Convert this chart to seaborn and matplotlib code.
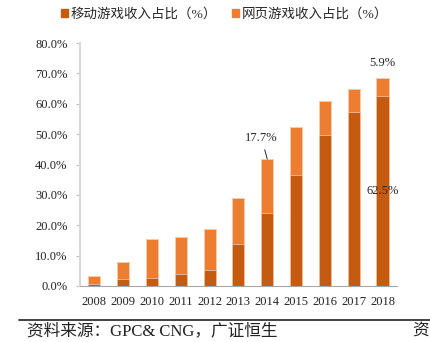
import matplotlib
matplotlib.use("Agg")
import matplotlib.pyplot as plt
import matplotlib.patches as mpatches
import numpy as np
import pandas as pd
import seaborn as sns

# Share of game revenue by segment (%)
years = ["2008", "2009", "2010", "2011", "2012", "2013", "2014", "2015", "2016", "2017", "2018"]
mobile_share = [0.5, 2.3, 2.6, 3.8, 5.3, 13.7, 24.1, 36.6, 49.6, 57.2, 62.5]
web_share = [2.7, 5.5, 12.7, 12.4, 13.5, 15.2, 17.7, 15.7, 11.3, 7.6, 5.9]
y_ticks = [0, 10, 20, 30, 40, 50, 60, 70, 80]

series_mobile = "移动游戏收入占比（%）"
series_web = "网页游戏收入占比（%）"
source_text = "资料来源：GPC& CNG，广证恒生"

c_mobile = "#C55A11"
c_web = "#ED7D31"
c_edge = "#F8CBAD"

sns.set_theme(style="white")
serif = ["Liberation Serif", "DejaVu Serif"]
cjk = ["Noto Sans CJK SC", "DejaVu Sans"]
mixed = ["Liberation Serif", "Noto Sans CJK SC"]
plt.rcParams["font.family"] = cjk

df = pd.DataFrame({
    "year": years,
    "mobile": mobile_share,
    "web": web_share,
})
df["total"] = df["mobile"] + df["web"]

fig = plt.figure(figsize=(4.30, 3.42), dpi=100)
ax = fig.add_axes([0.186, 0.164, 0.737, 0.71])

# stacked bars: total height in the web colour, mobile share drawn over it
sns.barplot(data=df, x="year", y="total", color=c_web, saturation=1,
            width=0.42, edgecolor=c_edge, linewidth=0.7, ax=ax)
sns.barplot(data=df, x="year", y="mobile", color=c_mobile, saturation=1,
            width=0.42, edgecolor=c_edge, linewidth=0.5, ax=ax)

ax.set_xlim(-0.5, len(years) - 0.5)
ax.set_ylim(0, 80)
ax.set_yticks(y_ticks)
ax.set_yticklabels([f"{v:.1f}%" for v in y_ticks], fontfamily=serif, fontsize=9, color="#222222")
ax.set_xticks(range(len(years)))
ax.set_xticklabels(years, fontfamily=serif, fontsize=9, color="#222222")
ax.set_xlabel("")
ax.set_ylabel("")

# category separators on the x axis
ax.set_xticks(np.arange(-0.5, len(years), 1.0), minor=True)
ax.tick_params(axis="x", which="major", length=0, pad=7)
ax.tick_params(axis="x", which="minor", length=4, width=0.8, color="#A6A6A6", direction="out")
ax.tick_params(axis="y", which="major", left=True, length=3, width=0.8, color="#BFBFBF", pad=6)

for side in ["top", "right"]:
    ax.spines[side].set_visible(False)
ax.spines["left"].set_color("#D9D9D9")
ax.spines["left"].set_linewidth(1.5)
ax.spines["bottom"].set_color("#A6A6A6")
ax.spines["bottom"].set_linewidth(0.8)

# value labels
i14 = years.index("2014")
ax.annotate(f"{web_share[i14]}%", xy=(i14, df["total"][i14]),
            xytext=(i14 - 0.2, df["total"][i14] + 7.0),
            ha="center", va="center", fontfamily=serif, fontsize=9,
            arrowprops=dict(arrowstyle="-", color="#222222", lw=0.7,
                            shrinkA=2, shrinkB=0))
i18 = years.index("2018")
ax.text(i18, df["total"][i18] + 5.0, f"{web_share[i18]}%", ha="center", va="center",
        fontfamily=serif, fontsize=9)
ax.text(i18, 31.2, f"{mobile_share[i18]}%", ha="center", va="center",
        fontfamily=serif, fontsize=9)

# legend
handles = [mpatches.Patch(color=c_mobile, label=series_mobile),
           mpatches.Patch(color=c_web, label=series_web)]
fig.legend(handles=handles, loc="center", bbox_to_anchor=(0.522, 0.958), ncol=2,
           frameon=False, handlelength=0.55, handleheight=0.55,
           handletextpad=0.2, columnspacing=1.05,
           prop={"family": mixed, "size": 9.7})

# source line
fig.add_artist(plt.Line2D([0.045, 1.0], [1 - 320 / 342] * 2, color="#333333", lw=1.3,
                          transform=fig.transFigure))
fig.text(0.062, 1 - 331 / 342, source_text, ha="left", va="center", fontsize=12,
         color="#222222", fontfamily=mixed)
fig.text(0.997, 1 - 331 / 342, "资", ha="right", va="center", fontsize=12,
         color="#222222", fontfamily=mixed)

fig.savefig("out.png", dpi=100)
